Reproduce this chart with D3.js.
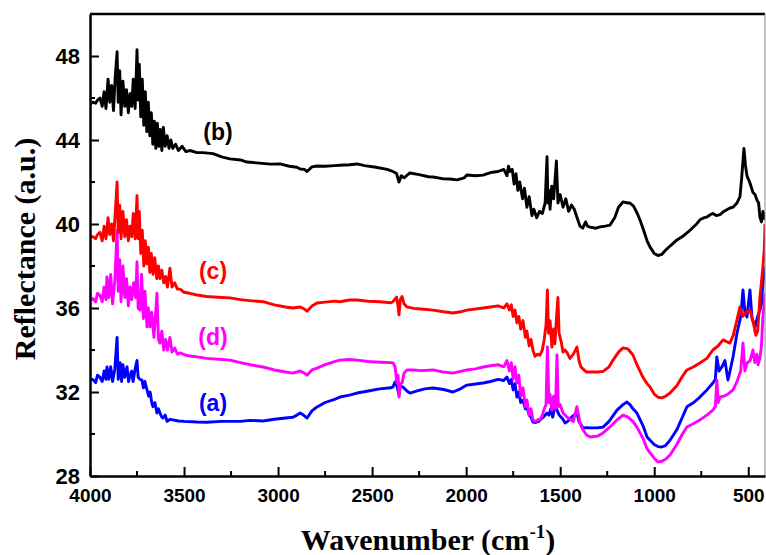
<!DOCTYPE html>
<meta charset="utf-8">
<script src="https://d3js.org/d3.v7.min.js"></script>
<style>
  body { margin: 0; background: #fff; }
  svg { display: block; }
</style>
<svg id="chart" width="766" height="555"></svg>

<script>
// spectra: [wavenumber (cm-1), reflectance]
var curveB = [[4000,45.7],[3985,45.8],[3970,45.75],[3960,45.9],[3947,46.0],[3935,45.6],[3925,46.3],[3915,45.5],[3904,46.9],[3895,45.8],[3885,46.6],[3875,45.4],[3866,47.0],[3856,48.2],[3850,45.8],[3842,47.3],[3835,45.2],[3825,46.8],[3815,45.6],[3806,46.4],[3796,45.3],[3787,46.2],[3778,45.6],[3770,46.9],[3760,45.5],[3750,48.3],[3744,45.9],[3738,47.6],[3730,45.1],[3722,46.9],[3714,44.7],[3706,46.3],[3698,44.4],[3690,45.8],[3682,44.2],[3674,45.3],[3666,43.8],[3658,44.9],[3650,43.6],[3642,44.8],[3634,43.7],[3626,44.5],[3618,43.5],[3610,44.6],[3600,43.7],[3590,44.2],[3580,43.6],[3570,44.0],[3560,43.6],[3545,43.8],[3530,43.5],[3510,43.7],[3490,43.45],[3468,43.5],[3431,43.4],[3400,43.4],[3346,43.35],[3300,43.2],[3256,43.1],[3200,43.05],[3165,42.95],[3100,42.9],[3040,42.85],[2990,42.86],[2940,42.75],[2900,42.7],[2883,42.62],[2860,42.6],[2846,42.5],[2820,42.72],[2793,42.76],[2750,42.75],[2700,42.78],[2671,42.8],[2620,42.82],[2580,42.86],[2540,42.78],[2480,42.7],[2420,42.6],[2389,42.5],[2370,42.4],[2357,42.0],[2345,42.3],[2330,42.2],[2299,42.43],[2250,42.35],[2200,42.25],[2176,42.24],[2120,42.15],[2086,42.14],[2049,42.1],[2010,42.2],[1996,42.33],[1950,42.3],[1910,42.33],[1870,42.45],[1830,42.5],[1800,42.6],[1783,42.3],[1775,42.75],[1767,42.5],[1755,42.6],[1745,41.9],[1735,42.4],[1725,41.6],[1715,42.0],[1700,41.2],[1690,41.7],[1677,40.8],[1665,41.3],[1650,40.4],[1640,40.7],[1625,40.3],[1610,40.6],[1595,40.5],[1580,41.0],[1570,43.2],[1565,41.0],[1558,41.6],[1554,40.7],[1545,41.8],[1535,41.2],[1520,43.0],[1512,41.0],[1500,41.4],[1485,40.8],[1470,41.2],[1455,40.6],[1440,40.9],[1425,40.7],[1410,40.3],[1395,39.9],[1380,39.8],[1365,40.1],[1355,39.9],[1341,39.85],[1310,39.8],[1288,39.86],[1260,39.9],[1235,39.95],[1210,40.3],[1190,40.8],[1166,41.05],[1140,41.0],[1129,41.0],[1110,40.85],[1090,40.5],[1076,40.2],[1060,39.8],[1038,39.2],[1022,38.9],[1000,38.6],[980,38.5],[960,38.55],[940,38.75],[916,38.95],[879,39.24],[850,39.4],[810,39.7],[780,39.95],[757,40.2],[735,40.3],[720,40.33],[700,40.45],[688,40.5],[670,40.4],[650,40.45],[630,40.6],[600,40.75],[581,40.8],[560,41.0],[544,41.3],[535,42.2],[523,43.6],[515,42.8],[507,42.3],[491,41.95],[475,41.5],[464,41.4],[454,41.14],[445,41.0],[438,40.33],[430,40.1],[422,40.6],[411,40.2]];

var curveC = [[4000,39.35],[3985,39.4],[3970,39.3],[3960,39.5],[3947,39.6],[3935,39.2],[3925,39.9],[3915,39.3],[3904,40.3],[3895,39.5],[3885,40.0],[3875,39.2],[3866,40.5],[3856,42.0],[3850,39.6],[3842,40.9],[3835,39.3],[3825,40.6],[3815,39.4],[3806,40.2],[3796,39.2],[3787,39.9],[3778,39.4],[3770,40.5],[3760,39.3],[3750,41.35],[3744,39.3],[3738,40.6],[3730,38.6],[3722,39.7],[3714,38.0],[3706,39.2],[3698,38.1],[3690,38.9],[3682,37.7],[3674,38.6],[3665,37.6],[3656,38.4],[3645,37.4],[3636,38.0],[3628,37.4],[3618,37.8],[3608,37.2],[3598,37.5],[3588,37.0],[3575,37.9],[3564,37.0],[3550,37.2],[3535,36.9],[3521,36.9],[3500,36.75],[3470,36.7],[3431,36.62],[3380,36.55],[3300,36.5],[3256,36.48],[3200,36.4],[3150,36.35],[3080,36.3],[3020,36.15],[2960,36.05],[2921,36.0],[2883,36.05],[2860,35.95],[2846,35.85],[2820,36.1],[2793,36.24],[2750,36.28],[2700,36.33],[2671,36.3],[2620,36.38],[2580,36.38],[2520,36.32],[2460,36.3],[2400,36.25],[2389,36.3],[2370,36.52],[2362,36.1],[2357,35.67],[2350,36.4],[2341,36.55],[2330,36.2],[2315,36.05],[2280,35.98],[2240,35.95],[2176,35.9],[2120,35.82],[2070,35.76],[2030,35.82],[1996,35.9],[1950,35.95],[1910,36.0],[1870,36.05],[1830,36.1],[1800,36.0],[1783,36.2],[1770,35.9],[1760,36.15],[1750,35.6],[1740,35.9],[1730,35.3],[1720,35.6],[1710,35.0],[1698,35.4],[1685,34.6],[1677,34.9],[1665,34.2],[1655,34.5],[1645,34.0],[1634,33.7],[1620,33.8],[1607,33.76],[1595,34.0],[1585,34.5],[1575,35.2],[1568,36.86],[1562,34.8],[1554,35.4],[1544,34.14],[1535,35.0],[1528,34.3],[1520,35.5],[1512,36.5],[1506,34.8],[1495,34.4],[1485,33.9],[1474,34.0],[1463,33.86],[1448,33.6],[1430,33.8],[1411,34.14],[1400,33.5],[1390,33.2],[1379,33.1],[1360,32.95],[1341,32.95],[1300,32.95],[1272,32.98],[1240,33.2],[1219,33.52],[1190,33.9],[1166,34.1],[1140,34.05],[1113,33.76],[1092,33.3],[1060,32.7],[1038,32.4],[1022,32.24],[1000,31.9],[980,31.75],[960,31.72],[940,31.8],[916,31.95],[880,32.3],[850,32.75],[826,33.05],[790,33.2],[757,33.38],[720,33.6],[688,34.0],[660,34.2],[634,34.48],[615,34.4],[597,34.33],[580,34.7],[560,35.43],[544,36.05],[530,35.6],[510,35.8],[491,35.9],[475,35.4],[460,34.7],[450,34.9],[438,36.5],[422,37.95],[415,38.8],[411,40.0]];

var curveD = [[4000,36.38],[3985,36.45],[3970,36.3],[3960,36.7],[3947,36.6],[3935,36.3],[3925,37.0],[3915,36.4],[3910,37.48],[3900,36.5],[3890,37.6],[3880,36.2],[3868,37.3],[3856,39.7],[3850,36.8],[3842,38.3],[3835,36.3],[3825,38.0],[3815,36.5],[3806,37.4],[3796,36.1],[3787,37.0],[3778,36.4],[3768,37.2],[3757,36.5],[3750,38.2],[3744,36.0],[3734,35.9],[3726,37.6],[3716,35.5],[3708,36.8],[3697,35.1],[3690,36.0],[3681,35.1],[3672,35.8],[3660,34.6],[3644,36.7],[3636,34.5],[3628,34.33],[3618,34.9],[3608,34.0],[3598,34.5],[3588,34.0],[3575,34.6],[3564,33.9],[3550,34.1],[3535,33.8],[3521,33.86],[3490,33.75],[3460,33.7],[3431,33.67],[3380,33.6],[3300,33.55],[3256,33.52],[3200,33.4],[3150,33.3],[3080,33.19],[3020,33.05],[2960,32.95],[2921,32.9],[2883,33.0],[2860,32.9],[2846,32.8],[2820,33.05],[2793,33.14],[2750,33.3],[2700,33.45],[2671,33.52],[2620,33.55],[2580,33.52],[2520,33.45],[2460,33.42],[2400,33.4],[2389,33.38],[2378,33.2],[2368,32.43],[2362,32.8],[2357,31.76],[2350,32.4],[2341,32.43],[2330,32.9],[2315,33.05],[2280,33.05],[2240,33.02],[2176,33.05],[2120,32.95],[2070,32.9],[2030,32.98],[1996,33.05],[1950,33.1],[1910,33.19],[1870,33.25],[1830,33.3],[1800,33.2],[1783,33.5],[1770,33.0],[1760,33.4],[1750,32.6],[1740,33.2],[1730,32.43],[1720,32.8],[1710,31.8],[1698,32.2],[1685,31.3],[1677,31.62],[1665,30.9],[1655,31.2],[1645,30.67],[1630,30.6],[1615,30.7],[1607,30.67],[1595,30.9],[1585,31.2],[1575,31.4],[1568,34.14],[1560,31.5],[1554,31.9],[1544,31.14],[1535,31.8],[1525,31.2],[1517,33.76],[1510,31.3],[1500,31.4],[1485,31.0],[1474,30.9],[1463,30.8],[1448,30.7],[1430,30.6],[1411,31.3],[1400,30.8],[1395,30.5],[1379,30.2],[1360,29.95],[1341,29.86],[1300,29.9],[1272,30.05],[1240,30.3],[1198,30.67],[1166,30.9],[1140,30.8],[1113,30.6],[1092,30.33],[1060,29.8],[1038,29.3],[1022,29.1],[1000,28.85],[980,28.67],[960,28.7],[940,28.8],[916,29.0],[880,29.5],[850,30.0],[826,30.33],[790,30.5],[757,30.67],[720,30.9],[688,31.14],[675,31.3],[667,32.57],[660,31.5],[650,31.76],[630,31.8],[608,31.9],[581,32.1],[560,32.5],[540,33.0],[528,34.33],[518,33.0],[507,33.38],[490,33.5],[475,34.0],[465,33.4],[454,33.8],[448,33.29],[438,33.6],[430,34.2],[422,35.57],[411,36.7]];

var curveA = [[4000,32.57],[3985,32.6],[3970,32.45],[3960,32.8],[3947,32.7],[3935,32.5],[3925,33.0],[3915,32.6],[3910,33.19],[3900,32.6],[3890,33.2],[3880,32.5],[3868,33.1],[3856,34.6],[3850,32.6],[3840,33.4],[3832,32.5],[3825,33.3],[3815,32.7],[3803,33.2],[3795,32.5],[3787,32.8],[3778,33.0],[3771,32.5],[3760,33.1],[3750,33.5],[3744,32.7],[3734,32.6],[3724,32.57],[3716,32.2],[3708,32.5],[3697,32.1],[3688,31.8],[3680,32.0],[3672,31.5],[3665,31.3],[3655,31.5],[3644,31.0],[3636,31.2],[3628,31.0],[3618,30.8],[3612,30.76],[3600,30.9],[3590,30.6],[3575,30.7],[3559,30.67],[3530,30.62],[3500,30.6],[3431,30.57],[3380,30.56],[3300,30.6],[3256,30.6],[3200,30.6],[3150,30.65],[3080,30.62],[3020,30.7],[2960,30.76],[2921,30.8],[2900,30.9],[2883,31.0],[2865,30.9],[2846,30.76],[2820,31.1],[2793,31.29],[2750,31.5],[2700,31.65],[2671,31.76],[2620,31.85],[2580,31.95],[2520,32.05],[2460,32.15],[2400,32.2],[2389,32.24],[2378,32.48],[2368,32.3],[2357,31.86],[2350,32.3],[2336,32.24],[2315,32.05],[2299,31.95],[2260,32.05],[2220,32.15],[2176,32.19],[2120,32.12],[2070,32.0],[2030,32.15],[1996,32.33],[1950,32.38],[1910,32.43],[1870,32.5],[1830,32.6],[1800,32.55],[1783,32.71],[1770,32.4],[1760,32.6],[1750,32.1],[1740,32.4],[1730,31.76],[1720,32.0],[1710,31.5],[1698,31.6],[1685,31.2],[1677,31.3],[1665,30.9],[1655,30.8],[1645,30.57],[1630,30.55],[1615,30.6],[1607,30.67],[1590,30.8],[1570,31.0],[1560,30.9],[1550,31.2],[1540,30.8],[1528,31.3],[1517,31.14],[1505,30.9],[1485,30.7],[1474,30.52],[1460,30.6],[1440,30.8],[1411,31.0],[1400,30.6],[1379,30.29],[1360,30.3],[1341,30.29],[1300,30.3],[1272,30.33],[1240,30.6],[1198,31.14],[1166,31.4],[1145,31.52],[1129,31.4],[1113,31.2],[1092,31.0],[1060,30.4],[1038,29.86],[1022,29.7],[1000,29.5],[980,29.4],[960,29.38],[940,29.45],[916,29.7],[880,30.2],[850,30.8],[826,31.3],[790,31.5],[757,31.76],[720,32.1],[688,32.43],[675,32.6],[667,33.67],[655,33.0],[640,33.2],[624,33.5],[608,32.57],[597,33.0],[581,33.67],[560,34.8],[540,35.6],[528,36.86],[518,35.8],[507,35.57],[491,36.86],[480,35.5],[464,35.1],[450,35.6],[438,35.9],[430,36.2],[422,37.2],[411,37.95]];

var xTicks = [4000, 3500, 3000, 2500, 2000, 1500, 1000, 500];
var xMinor = [3750, 3250, 2750, 2250, 1750, 1250, 750];
var yTicks = [28, 32, 36, 40, 44, 48];
var yMinor = [30, 34, 38, 42, 46, 50];

var series = [
    {name: "(a)", data: curveA, color: "#0000ff", lx: 213, ly: 411},
    {name: "(d)", data: curveD, color: "#ff00ff", lx: 213, ly: 345},
    {name: "(c)", data: curveC, color: "#ff0000", lx: 213, ly: 279},
    {name: "(b)", data: curveB, color: "#000000", lx: 218, ly: 140}
];

var svg = d3.select("#chart");
var mLeft = 90, mRight = 765, mTop = 14, mBottom = 476;

var x = d3.scaleLinear().domain([4000, 411]).range([mLeft, mRight]);
var y = d3.scaleLinear().domain([28, 50]).range([mBottom, mTop]);

svg.append("rect").attr("width", 766).attr("height", 555).attr("fill", "#fff");

svg.append("clipPath").attr("id", "clip")
    .append("rect").attr("x", mLeft).attr("y", mTop)
    .attr("width", mRight - mLeft).attr("height", mBottom - mTop);

var line = d3.line()
    .x(d => x(d[0]))
    .y(d => y(d[1]));

svg.append("g").attr("clip-path", "url(#clip)")
    .selectAll("path")
    .data(series)
    .enter().append("path")
    .attr("d", d => line(d.data))
    .attr("fill", "none")
    .attr("stroke", d => d.color)
    .attr("stroke-width", 2.9)
    .attr("stroke-linejoin", "round");

// curve labels
svg.selectAll("text.lbl")
    .data(series)
    .enter().append("text")
    .attr("class", "lbl")
    .attr("x", d => d.lx)
    .attr("y", d => d.ly)
    .attr("text-anchor", "middle")
    .attr("fill", d => d.color)
    .style("font", "bold 23px 'Liberation Sans', Arial, sans-serif")
    .text(d => d.name);

// frame: top and right
svg.append("line").attr("x1", mLeft).attr("x2", mRight).attr("y1", mTop).attr("y2", mTop)
    .attr("stroke", "#000").attr("stroke-width", 2.5);
svg.append("line").attr("x1", mRight).attr("x2", mRight).attr("y1", mTop).attr("y2", mBottom)
    .attr("stroke", "#888").attr("stroke-width", 1);

// axes with inward ticks
var xAxis = svg.append("g").attr("transform", "translate(0," + mBottom + ")")
    .call(d3.axisBottom(x).tickValues(xTicks).tickFormat(d3.format("d"))
        .tickSizeInner(-9).tickSizeOuter(0).tickPadding(13));
xAxis.append("g").selectAll("line").data(xMinor).enter().append("line")
    .attr("x1", d => x(d)).attr("x2", d => x(d)).attr("y1", 0).attr("y2", -5);

var yAxis = svg.append("g").attr("transform", "translate(" + mLeft + ",0)")
    .call(d3.axisLeft(y).tickValues(yTicks).tickFormat(d3.format("d"))
        .tickSizeInner(-9).tickSizeOuter(0).tickPadding(10));
yAxis.append("g").selectAll("line").data(yMinor).enter().append("line")
    .attr("x1", 0).attr("x2", 5).attr("y1", d => y(d)).attr("y2", d => y(d));

svg.selectAll(".domain").attr("stroke", "#000").attr("stroke-width", 2.5);
xAxis.selectAll("line").attr("stroke", "#000").attr("stroke-width", 2);
yAxis.selectAll("line").attr("stroke", "#000").attr("stroke-width", 2);

xAxis.selectAll(".tick text")
    .style("font", "bold 19px 'Liberation Sans', Arial, sans-serif").attr("fill", "#000");
yAxis.selectAll(".tick text")
    .style("font", "bold 22px 'Liberation Sans', Arial, sans-serif").attr("fill", "#000");

// axis titles
var xt = svg.append("text")
    .attr("x", 428).attr("y", 550)
    .attr("text-anchor", "middle")
    .style("font", "bold 30px 'Liberation Serif', 'Times New Roman', serif");
xt.append("tspan").text("Wavenumber (cm");
xt.append("tspan").attr("dy", -12).style("font-size", "19px").text("-1");
xt.append("tspan").attr("dy", 12).text(")");

svg.append("text")
    .attr("transform", "translate(35,249) rotate(-90)")
    .attr("text-anchor", "middle")
    .style("font", "bold 30px 'Liberation Serif', 'Times New Roman', serif")
    .text("Reflectance (a.u.)");
</script>
